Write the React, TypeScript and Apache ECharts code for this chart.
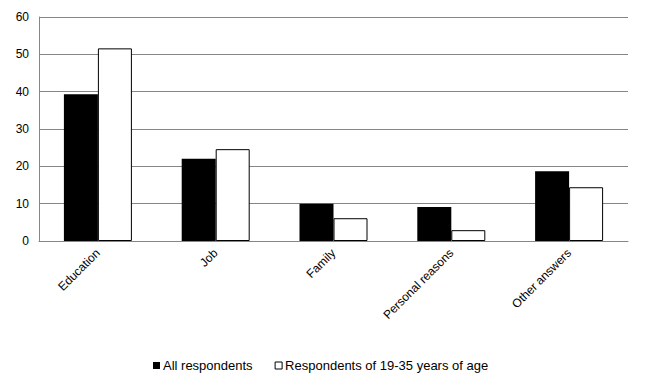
import React, { useEffect, useRef } from "react";
import * as echarts from "echarts";

const categories = ["Education", "Job", "Family", "Personal reasons", "Other answers"];
const allRespondents = [39.3, 22.0, 10.0, 9.1, 18.7];
const young = [51.6, 24.6, 6.1, 2.9, 14.4];
const seriesNames = ["All respondents", "Respondents of 19-35 years of age"];

export default function App() {
  const ref = useRef<HTMLDivElement>(null);
  useEffect(() => {
    const chart = echarts.init(ref.current!, null, { renderer: "svg" });
    const font = "Arial, 'Liberation Sans', sans-serif";
    chart.setOption({
      animation: false,
      backgroundColor: "#ffffff",
      grid: { left: 39, right: 18, top: 17, bottom: 145, containLabel: false },
      legend: {
        top: 354,
        left: 148,
        itemWidth: 7,
        itemHeight: 7,
        itemGap: 22,
        icon: "rect",
        textStyle: { fontFamily: font, fontSize: 13, color: "#000", padding: [0, 0, 0, -2] },
        data: [
          { name: seriesNames[0], itemStyle: { color: "#000", borderWidth: 0 } },
          { name: seriesNames[1], itemStyle: { color: "#fff", borderColor: "#000", borderWidth: 1 } },
        ],
      },
      xAxis: {
        type: "category",
        data: categories,
        axisLine: { lineStyle: { color: "#868686", width: 1 } },
        axisTick: { show: false },
        axisLabel: { rotate: 45, fontFamily: font, fontSize: 12, color: "#000", margin: 10, interval: 0 },
      },
      yAxis: {
        type: "value",
        min: 0,
        max: 60,
        interval: 10,
        axisLine: { show: true, lineStyle: { color: "#868686", width: 1 } },
        axisTick: { show: false },
        splitLine: { lineStyle: { color: "#868686", width: 1 } },
        axisLabel: { fontFamily: font, fontSize: 12, color: "#000", margin: 10 },
      },
      series: [
        {
          name: seriesNames[0],
          type: "bar",
          data: allRespondents,
          barWidth: 34,
          barGap: "0%",
          itemStyle: { color: "#000" },
        },
        {
          name: seriesNames[1],
          type: "bar",
          data: young,
          barWidth: 34,
          barGap: "0%",
          itemStyle: { color: "#fff", borderColor: "#000", borderWidth: 1 },
        },
      ],
    });
    return () => chart.dispose();
  }, []);
  return <div ref={ref} style={{ width: 646, height: 386, position: "absolute", left: 0, top: 0 }} />;
}
